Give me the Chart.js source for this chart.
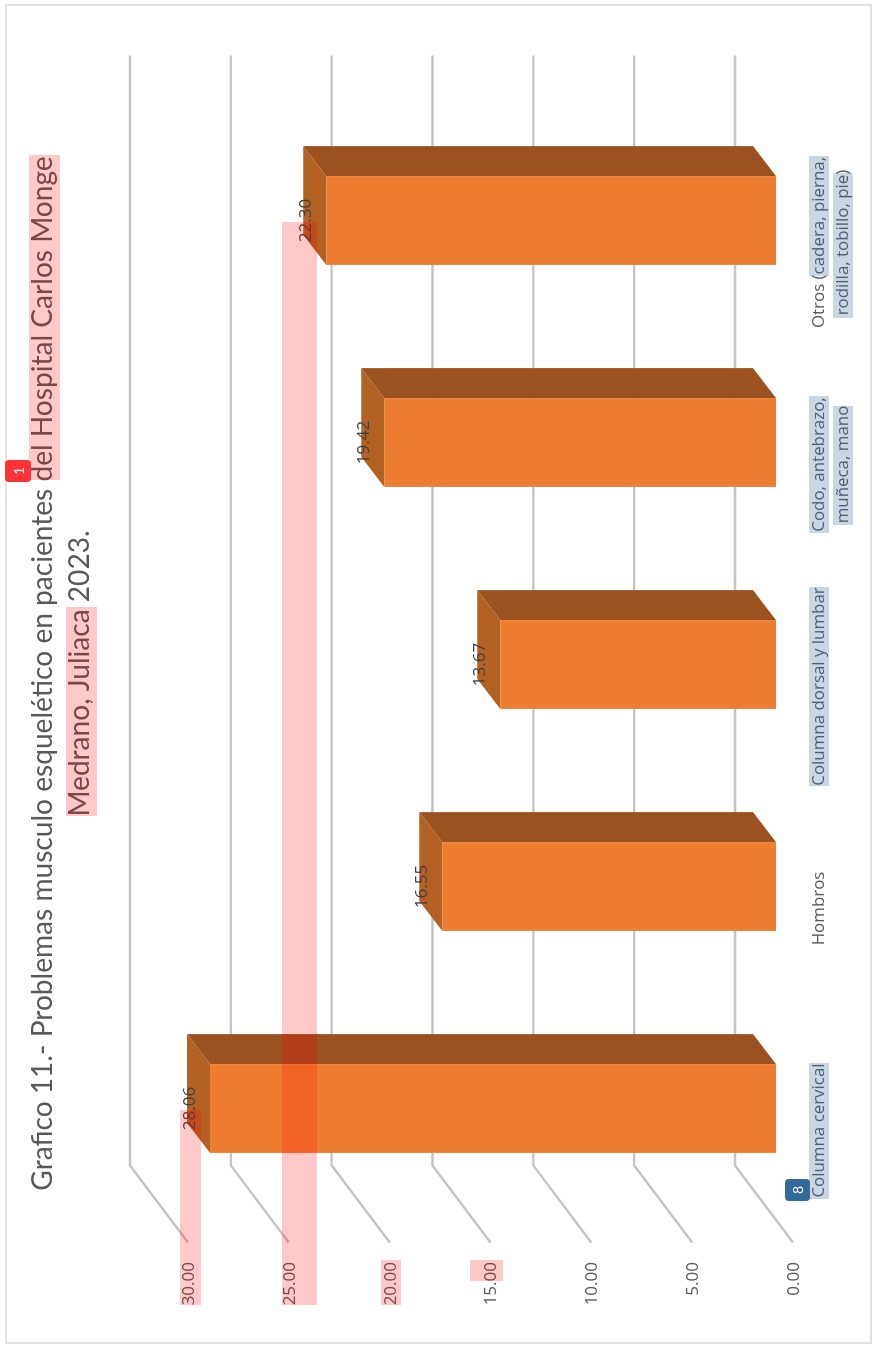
<!DOCTYPE html>
<html lang="es">
<head>
    <meta charset="UTF-8">
    <title>Grafico 11</title>
    <style>
        html, body { margin: 0; padding: 0; background: #fff; overflow: hidden; }
        #stage { position: relative; width: 874px; height: 1353px; overflow: hidden; }
        /* the whole chart is turned a quarter, so the canvas is 1353 wide and 874 high */
        #chart { position: absolute; left: 0; top: 0; transform-origin: 0 0; transform: translateY(1353px) rotate(-90deg); }
    </style>
    <script src="https://cdn.jsdelivr.net/npm/chart.js"></script>
</head>
<body>
    <div id="stage"><canvas id="chart" width="1353" height="874"></canvas></div>

    <script>
        const titleLines = ['Grafico 11.- Problemas musculo esquelético en pacientes del Hospital Carlos Monge', 'Medrano, Juliaca 2023.'];
        const categories = ['Columna cervical', 'Hombros', 'Columna dorsal y lumbar', ['Codo, antebrazo,', 'muñeca, mano'], ['Otros (cadera, pierna,', 'rodilla, tobillo, pie)']];
        const values = [28.06, 16.55, 13.67, 19.42, 22.30];
        const axisMax = 30;
        const axisStep = 5;

        const textColor = '#595959';
        const fontName = 'Lato, "Open Sans", sans-serif';
        const smallFont = '"Open Sans", Lato, sans-serif';

        // depth of the fake 3D box, and how far the back wall sits from the front plane
        const barDepth = { x: 30, y: -23 };
        const wall = { x: 54, y: -41 };
        const floorLine = { x: -77, y: 58 };

        // annotation marks laid over the chart: [x, y, w, h] in canvas pixels
        const pinkMarks = [[873, 29, 325, 31], [537, 66, 209, 31], [48, 180, 195, 21], [48, 282, 1083, 35], [48, 381, 45, 20], [72, 470, 21, 33]];
        const blueMarks = [[154, 809, 136, 20], [1077, 809, 120, 20], [1035, 833, 145, 20], [820, 809, 137, 20], [828, 833, 119, 20], [567, 809, 199, 20]];
        const badges = [
            { text: '1', x: 871, y: 5, w: 22, h: 26, color: '#ff3333' },
            { text: '8', x: 152, y: 785, w: 22, h: 25, color: '#336a99' }
        ];

        const box3d = {
            id: 'box3d',
            beforeDatasetsDraw(chart) {
                const ctx = chart.ctx;
                const yScale = chart.scales.y;
                const area = chart.chartArea;

                // outer frame
                ctx.save();
                ctx.strokeStyle = '#e2e2e2';
                ctx.lineWidth = 2;
                ctx.strokeRect(10, 6, 1338, 865);

                // wall lines and floor lines
                ctx.strokeStyle = '#c4c4c4';
                ctx.lineWidth = 2.4;
                yScale.ticks.forEach(t => {
                    const y = yScale.getPixelForValue(t.value) + wall.y;
                    const x0 = area.left + wall.x;
                    ctx.beginPath();
                    ctx.moveTo(area.right + wall.x, y);
                    ctx.lineTo(x0, y);
                    ctx.lineTo(x0 + floorLine.x, y + floorLine.y);
                    ctx.stroke();
                });

                // side and cap of every bar
                chart.getDatasetMeta(0).data.forEach(bar => {
                    const left = bar.x - bar.width / 2;
                    const right = bar.x + bar.width / 2;
                    ctx.fillStyle = '#9b5120';
                    ctx.beginPath();
                    ctx.moveTo(right, bar.y);
                    ctx.lineTo(right + barDepth.x, bar.y + barDepth.y);
                    ctx.lineTo(right + barDepth.x, bar.base + barDepth.y);
                    ctx.lineTo(right, bar.base);
                    ctx.closePath();
                    ctx.fill();
                    ctx.fillStyle = '#b46124';
                    ctx.beginPath();
                    ctx.moveTo(left, bar.y);
                    ctx.lineTo(right, bar.y);
                    ctx.lineTo(right + barDepth.x, bar.y + barDepth.y);
                    ctx.lineTo(left + barDepth.x, bar.y + barDepth.y);
                    ctx.closePath();
                    ctx.fill();
                });
                ctx.restore();
            },
            afterDatasetsDraw(chart) {
                const ctx = chart.ctx;
                ctx.save();
                ctx.fillStyle = '#404040';
                ctx.font = '17px ' + smallFont;
                ctx.textAlign = 'center';
                ctx.textBaseline = 'middle';
                chart.getDatasetMeta(0).data.forEach((bar, i) => {
                    ctx.fillText(values[i].toFixed(2), bar.x, bar.y - 20);
                });
                ctx.restore();
            },
            afterDraw(chart) {
                const ctx = chart.ctx;
                ctx.save();
                ctx.fillStyle = 'rgba(255, 0, 0, 0.21)';
                pinkMarks.forEach(m => ctx.fillRect(m[0], m[1], m[2], m[3]));
                ctx.fillStyle = 'rgba(60, 110, 160, 0.28)';
                blueMarks.forEach(m => ctx.fillRect(m[0], m[1], m[2], m[3]));
                ctx.font = '14px ' + fontName;
                ctx.textAlign = 'center';
                ctx.textBaseline = 'middle';
                badges.forEach(b => {
                    ctx.fillStyle = b.color;
                    ctx.beginPath();
                    ctx.roundRect(b.x, b.y, b.w, b.h, 4);
                    ctx.fill();
                    ctx.fillStyle = '#fff';
                    ctx.fillText(b.text, b.x + b.w / 2, b.y + b.h / 2 + 1);
                });
                ctx.restore();
            }
        };

        new Chart(document.getElementById('chart'), {
            type: 'bar',
            data: {
                labels: categories,
                datasets: [{
                    data: values,
                    backgroundColor: '#ed7d31',
                    borderWidth: 0,
                    barPercentage: 0.4,
                    categoryPercentage: 1
                }]
            },
            plugins: [box3d],
            options: {
                responsive: false,
                animation: false,
                devicePixelRatio: 1,
                layout: { padding: { left: 6, top: 24, right: 0, bottom: 0 } },
                plugins: {
                    legend: { display: false },
                    tooltip: { enabled: false },
                    title: {
                        display: true,
                        text: titleLines,
                        color: textColor,
                        font: { family: fontName, size: 28.1, weight: 'normal', lineHeight: 37 / 28.1 },
                        padding: { top: 0, bottom: 73 }
                    }
                },
                scales: {
                    x: {
                        grid: { display: false, drawTicks: false },
                        border: { display: false },
                        afterFit: s => { s.height = 98; },
                        ticks: {
                            color: textColor,
                            font: { family: smallFont, size: 16.9, lineHeight: 24 / 16.9 },
                            autoSkip: false,
                            maxRotation: 0,
                            minRotation: 0,
                            padding: 31,
                            labelOffset: -22
                        }
                    },
                    y: {
                        min: 0,
                        max: axisMax,
                        grid: { display: false, drawTicks: false },
                        border: { display: false },
                        afterFit: s => { s.width = 127.5; },
                        ticks: {
                            stepSize: axisStep,
                            color: textColor,
                            font: { family: smallFont, size: 17 },
                            padding: 42.5,
                            labelOffset: 18,
                            callback: v => v.toFixed(2)
                        }
                    },
                    // empty axis, only holds the room on the far end of the plot
                    y2: {
                        position: 'right',
                        grid: { display: false, drawTicks: false },
                        border: { display: false },
                        ticks: { display: false },
                        afterFit: s => { s.width = 109.5; }
                    }
                }
            }
        });
    </script>
</body>
</html>
